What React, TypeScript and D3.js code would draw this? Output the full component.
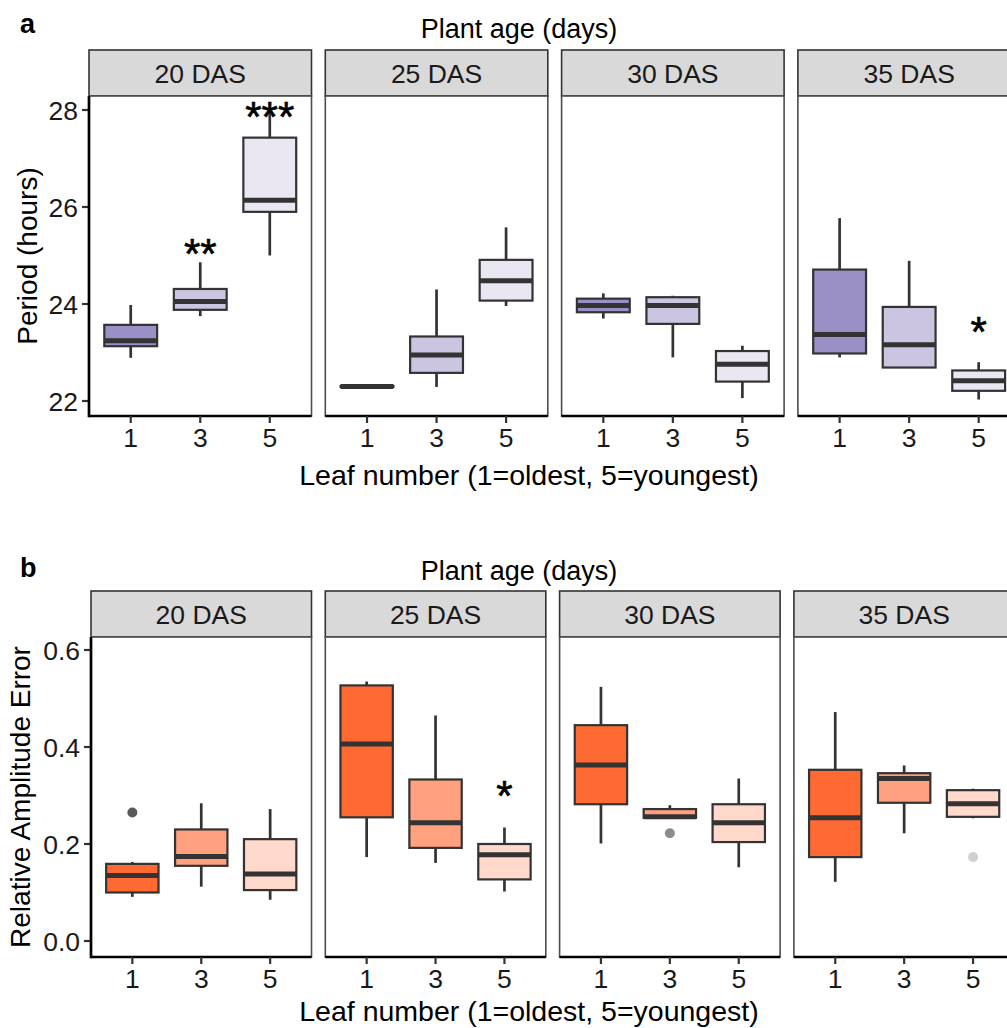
import React from "react";
import * as d3 from "d3";

// ---------- data ----------
const ages = ["20 DAS", "25 DAS", "30 DAS", "35 DAS"];
const leaves = ["1", "3", "5"];

// Period (hours): order = age (20,25,30,35) x leaf (1,3,5)
const periodMin = [22.89, 23.75, 25.0, 22.28, 22.29, 23.96, 23.7, 22.9, 22.06, 22.9, 22.69, 22.03];
const periodQ1 = [23.13, 23.88, 25.9, 22.29, 22.58, 24.07, 23.83, 23.59, 22.4, 22.98, 22.69, 22.21];
const periodMedian = [23.24, 24.05, 26.14, 22.3, 22.95, 24.48, 23.97, 23.97, 22.76, 23.37, 23.16, 22.42];
const periodQ3 = [23.57, 24.31, 27.43, 22.31, 23.33, 24.91, 24.11, 24.14, 23.03, 24.71, 23.94, 22.63];
const periodMax = [23.98, 24.86, 28.0, 22.32, 24.3, 25.58, 24.22, 24.17, 23.14, 25.77, 24.89, 22.8];

// Relative amplitude error
const ampMin = [0.091, 0.112, 0.085, 0.173, 0.161, 0.102, 0.201, 0.254, 0.152, 0.122, 0.222, 0.253];
const ampQ1 = [0.1, 0.155, 0.105, 0.255, 0.192, 0.127, 0.282, 0.254, 0.204, 0.173, 0.285, 0.256];
const ampMedian = [0.135, 0.174, 0.138, 0.406, 0.244, 0.178, 0.363, 0.256, 0.244, 0.254, 0.335, 0.283];
const ampQ3 = [0.159, 0.23, 0.21, 0.527, 0.333, 0.2, 0.445, 0.272, 0.282, 0.353, 0.346, 0.311];
const ampMax = [0.163, 0.284, 0.272, 0.535, 0.465, 0.234, 0.524, 0.28, 0.335, 0.472, 0.362, 0.314];

const ampOutlierAge = ["20 DAS", "30 DAS", "35 DAS"];
const ampOutlierLeaf = ["1", "3", "5"];
const ampOutlierValue = [0.265, 0.222, 0.173];

const periodSigAge = ["20 DAS", "20 DAS", "35 DAS"];
const periodSigLeaf = ["3", "5", "5"];
const periodSigLabel = ["**", "***", "*"];
const periodSigValue = [25.22, 28.04, 23.61];

const ampSigAge = ["25 DAS"];
const ampSigLeaf = ["5"];
const ampSigLabel = ["*"];
const ampSigValue = [0.318];

const periodTicks = [22, 24, 26, 28];
const ampTicks = [0, 0.2, 0.4, 0.6];

// ---------- styles ----------
const purpleFills = ["#9b90c5", "#cbc5e1", "#eae7f3"];
const orangeFills = ["#ff6a33", "#ffa07f", "#ffdacc"];
const outlierColors = ["#5a5a5a", "#8c8c8c", "#d0d0d0"];
const FONT = "'Liberation Sans', Arial, Helvetica, sans-serif";
const DARK = "#333333";

type PanelCfg = {
  top: number;
  stripH: number;
  plotTop: number;
  plotBottom: number;
  left0: number;
  step: number;
  width: number;
};

function Facet(props: {
  cfg: PanelCfg;
  y: d3.ScaleLinear<number, number>;
  ticks: number[];
  tickFmt: (v: number) => string;
  mins: number[];
  q1s: number[];
  meds: number[];
  q3s: number[];
  maxs: number[];
  fills: string[];
  outAge: string[];
  outLeaf: string[];
  outVal: number[];
  sigAge: string[];
  sigLeaf: string[];
  sigLabel: string[];
  sigVal: number[];
  yTitle: string;
  yTitleX: number;
  letter: string;
  letterY: number;
  topTitleY: number;
  xTitleY: number;
}) {
  const { cfg, y } = props;
  const xFor = (ai: number) => {
    const left = cfg.left0 + ai * cfg.step;
    const unit = cfg.width / 3.2;
    return {
      left,
      unit,
      x: d3
        .scalePoint<string>()
        .domain(leaves)
        .range([left + 0.6 * unit, left + 2.6 * unit]),
    };
  };
  const plotMidY = (cfg.plotTop + cfg.plotBottom) / 2;
  return (
    <g>
      <text x={20} y={props.letterY} fontFamily={FONT} fontWeight="bold" fontSize={27} fill="#000">
        {props.letter}
      </text>
      <text x={519} y={props.topTitleY} fontFamily={FONT} fontSize={27} textAnchor="middle" fill="#000">
        Plant age (days)
      </text>
      <text
        transform={`translate(${props.yTitleX},${plotMidY}) rotate(-90)`}
        fontFamily={FONT}
        fontSize={28}
        textAnchor="middle"
        fill="#000"
      >
        {props.yTitle}
      </text>
      <text x={529} y={props.xTitleY} fontFamily={FONT} fontSize={28.5} textAnchor="middle" fill="#000">
        Leaf number (1=oldest, 5=youngest)
      </text>
      {props.ticks.map((t) => (
        <g key={t}>
          <line x1={cfg.left0 - 7} x2={cfg.left0} y1={y(t)} y2={y(t)} stroke={DARK} strokeWidth={2.2} />
          <text
            x={cfg.left0 - 11}
            y={y(t)}
            dy="0.36em"
            textAnchor="end"
            fontFamily={FONT}
            fontSize={26.5}
            fill="#1a1a1a"
          >
            {props.tickFmt(t)}
          </text>
        </g>
      ))}
      {ages.map((age, ai) => {
        const { left, unit, x } = xFor(ai);
        const bw = 0.76 * unit;
        return (
          <g key={age}>
            <rect
              x={left}
              y={cfg.top}
              width={cfg.width}
              height={cfg.stripH}
              fill="#d9d9d9"
              stroke={DARK}
              strokeWidth={1.6}
            />
            <text
              x={left + cfg.width / 2}
              y={cfg.top + cfg.stripH / 2}
              dy="0.36em"
              textAnchor="middle"
              fontFamily={FONT}
              fontSize={26.5}
              fill="#1a1a1a"
            >
              {age}
            </text>
            <rect
              x={left}
              y={cfg.plotTop}
              width={cfg.width}
              height={cfg.plotBottom - cfg.plotTop}
              fill="#fff"
              stroke="#4d4d4d"
              strokeWidth={1.6}
            />
            {leaves.map((lf, li) => {
              const i = ai * 3 + li;
              const cx = x(lf) as number;
              return (
                <g key={lf}>
                  <line x1={cx} x2={cx} y1={y(props.maxs[i])} y2={y(props.q3s[i])} stroke={DARK} strokeWidth={2.7} />
                  <line x1={cx} x2={cx} y1={y(props.q1s[i])} y2={y(props.mins[i])} stroke={DARK} strokeWidth={2.7} />
                  <rect
                    x={cx - bw / 2}
                    y={y(props.q3s[i])}
                    width={bw}
                    height={Math.max(0, y(props.q1s[i]) - y(props.q3s[i]))}
                    fill={props.fills[li]}
                    stroke={DARK}
                    strokeWidth={2.2}
                  />
                  <line
                    x1={cx - bw / 2}
                    x2={cx + bw / 2}
                    y1={y(props.meds[i])}
                    y2={y(props.meds[i])}
                    stroke={DARK}
                    strokeWidth={5}
                  />
                </g>
              );
            })}
            {props.outVal.map((v, oi) =>
              props.outAge[oi] === age ? (
                <circle key={oi} cx={x(props.outLeaf[oi]) as number} cy={y(v)} r={5} fill={outlierColors[oi]} />
              ) : null
            )}
            {props.sigVal.map((v, si) =>
              props.sigAge[si] === age ? (
                <text
                  key={si}
                  x={x(props.sigLeaf[si]) as number}
                  y={y(v) + 23}
                  textAnchor="middle"
                  fontFamily={FONT}
                  fontSize={42}
                  stroke="#000"
                  strokeWidth={0.6}
                  fill="#000"
                >
                  {props.sigLabel[si]}
                </text>
              ) : null
            )}
            <line x1={left} x2={left + cfg.width} y1={cfg.plotBottom} y2={cfg.plotBottom} stroke="#000" strokeWidth={2.7} />
            {leaves.map((lf) => (
              <g key={lf}>
                <line
                  x1={x(lf) as number}
                  x2={x(lf) as number}
                  y1={cfg.plotBottom}
                  y2={cfg.plotBottom + 7}
                  stroke={DARK}
                  strokeWidth={2.2}
                />
                <text
                  x={x(lf) as number}
                  y={cfg.plotBottom + 31}
                  textAnchor="middle"
                  fontFamily={FONT}
                  fontSize={26.5}
                  fill="#1a1a1a"
                >
                  {lf}
                </text>
              </g>
            ))}
          </g>
        );
      })}
      <line x1={cfg.left0} x2={cfg.left0} y1={cfg.plotTop} y2={cfg.plotBottom + 1.35} stroke="#000" strokeWidth={2.7} />
    </g>
  );
}

export default function App() {
  const cfgA: PanelCfg = { top: 50, stripH: 46, plotTop: 96, plotBottom: 416, left0: 89, step: 236.3, width: 222.5 };
  const cfgB: PanelCfg = { top: 591, stripH: 46, plotTop: 637, plotBottom: 957, left0: 91, step: 234.3, width: 220.5 };
  const yA = d3.scaleLinear().domain([22, 28]).range([401, 110]);
  const yB = d3.scaleLinear().domain([0, 0.6]).range([941, 650]);
  return (
    <svg width={1007} height={1028} style={{ position: "absolute", left: 0, top: 0, background: "#fff" }}>
      <rect width={1007} height={1028} fill="#fff" />
      <Facet
        cfg={cfgA}
        y={yA}
        ticks={periodTicks}
        tickFmt={(v) => String(v)}
        mins={periodMin}
        q1s={periodQ1}
        meds={periodMedian}
        q3s={periodQ3}
        maxs={periodMax}
        fills={purpleFills}
        outAge={[]}
        outLeaf={[]}
        outVal={[]}
        sigAge={periodSigAge}
        sigLeaf={periodSigLeaf}
        sigLabel={periodSigLabel}
        sigVal={periodSigValue}
        yTitle="Period (hours)"
        yTitleX={37}
        letter="a"
        letterY={33}
        topTitleY={38}
        xTitleY={485}
      />
      <Facet
        cfg={cfgB}
        y={yB}
        ticks={ampTicks}
        tickFmt={(v) => d3.format(".1f")(v)}
        mins={ampMin}
        q1s={ampQ1}
        meds={ampMedian}
        q3s={ampQ3}
        maxs={ampMax}
        fills={orangeFills}
        outAge={ampOutlierAge}
        outLeaf={ampOutlierLeaf}
        outVal={ampOutlierValue}
        sigAge={ampSigAge}
        sigLeaf={ampSigLeaf}
        sigLabel={ampSigLabel}
        sigVal={ampSigValue}
        yTitle="Relative Amplitude Error"
        yTitleX={30}
        letter="b"
        letterY={577}
        topTitleY={580}
        xTitleY={1021}
      />
    </svg>
  );
}
